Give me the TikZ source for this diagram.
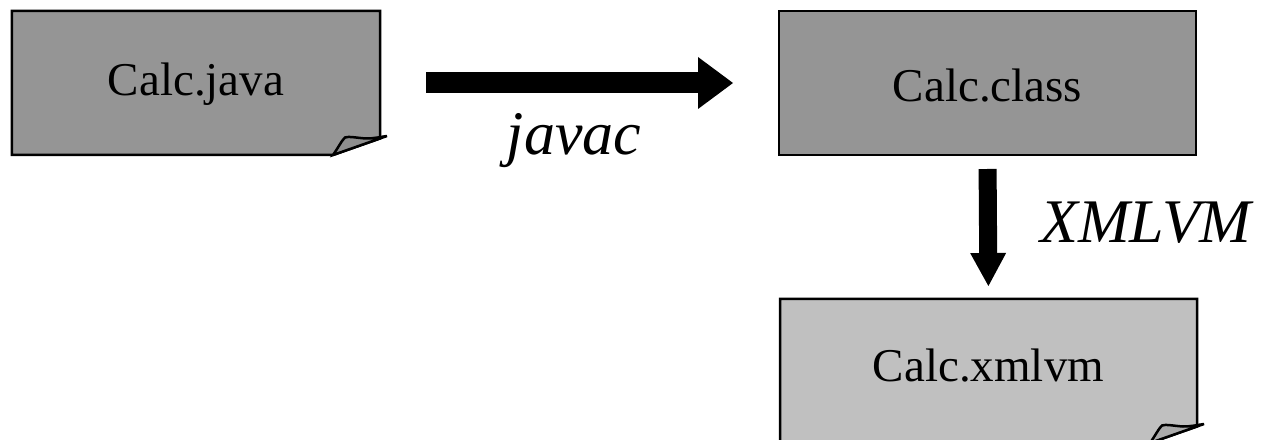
\documentclass[tikz,border=0pt]{standalone}
\usepackage{fontspec}
\setmainfont{Liberation Serif}
\usetikzlibrary{calc,arrows.meta}

\definecolor{pagedark}{HTML}{959595}
\definecolor{pagelight}{HTML}{C0C0C0}
\definecolor{flapdark}{HTML}{8E8E8E}
\definecolor{flaplight}{HTML}{ABABAB}

% a sheet of paper with its lower right corner curled over
\newcommand\foldpage[3]{%
  \draw[pageline, fill=#2]
    (#1.north west) -- (#1.north east)
    -- ($(#1.south east)+(0,-16.5)$)
    -- ($(#1.south east)+(-47,0)$)
    -- (#1.south west) -- cycle;
  \draw[pageline, fill=#3]
    ($(#1.south east)+(-47,0)$)
    .. controls ($(#1.south east)+(-42,-7)$) and ($(#1.south east)+(-38,-15)$)
    .. ($(#1.south east)+(-35,-17.5)$)
    .. controls ($(#1.south east)+(-32,-19)$) and ($(#1.south east)+(-22,-17)$)
    .. ($(#1.south east)+(-14,-16.5)$)
    .. controls ($(#1.south east)+(-6,-16.5)$) and ($(#1.south east)+(0,-18)$)
    .. ($(#1.south east)+(7,-19)$)
    -- cycle;
}

\begin{document}
\begin{tikzpicture}[x=1bp, y=-1bp,
    pagebox/.style={rectangle, draw=none, inner sep=0pt, outer sep=0pt,
                    minimum height=144bp},
    pageline/.style={draw=black, line width=2.5bp, line join=miter},
    filename/.style={anchor=base, inner sep=0pt,
                     font=\fontsize{47bp}{56bp}\selectfont},
    toolname/.style={anchor=base, inner sep=0pt,
                     font=\fontsize{62bp}{74bp}\selectfont\itshape},
    bigarrow/.style={draw=black, line width=21bp,
                     -{Triangle[width=52bp, length=35bp, line width=0pt]}},
    downarrow/.style={draw=black, line width=18bp,
                     -{Triangle[width=36bp, length=33bp, line width=0pt]}}]

  \clip (0,0) rectangle (1268,440);

  % the three files
  \node[pagebox, minimum width=368bp] (java) at (196,83) {};
  \node[pagebox, minimum width=417bp] (cls)  at (987.5,83) {};
  \node[pagebox, minimum width=417bp] (xml)  at (988.5,371) {};

  \foldpage{java}{pagedark}{flapdark}
  \draw[pageline, fill=pagedark] (cls.north west) rectangle (cls.south east);
  \foldpage{xml}{pagelight}{flaplight}

  \node[filename] (javatext) at (196,96)  {Calc.java};
  \node[filename] (clstext)  at (987.5,102) {Calc.class};
  \node[filename] (xmltext)  at (988.5,382) {Calc.xmlvm};

  % the two translation steps
  \draw[bigarrow, shorten <=46bp, shorten >=46bp] (java.east) -- (cls.west);
  \node[toolname] (javac) at (574,155) {javac};

  \draw[downarrow, shorten <=14bp, shorten >=13bp] (cls.south) -- (xml.north);
  \node[toolname] (xmlvm) at (1146,243) {XMLVM};
\end{tikzpicture}
\end{document}
